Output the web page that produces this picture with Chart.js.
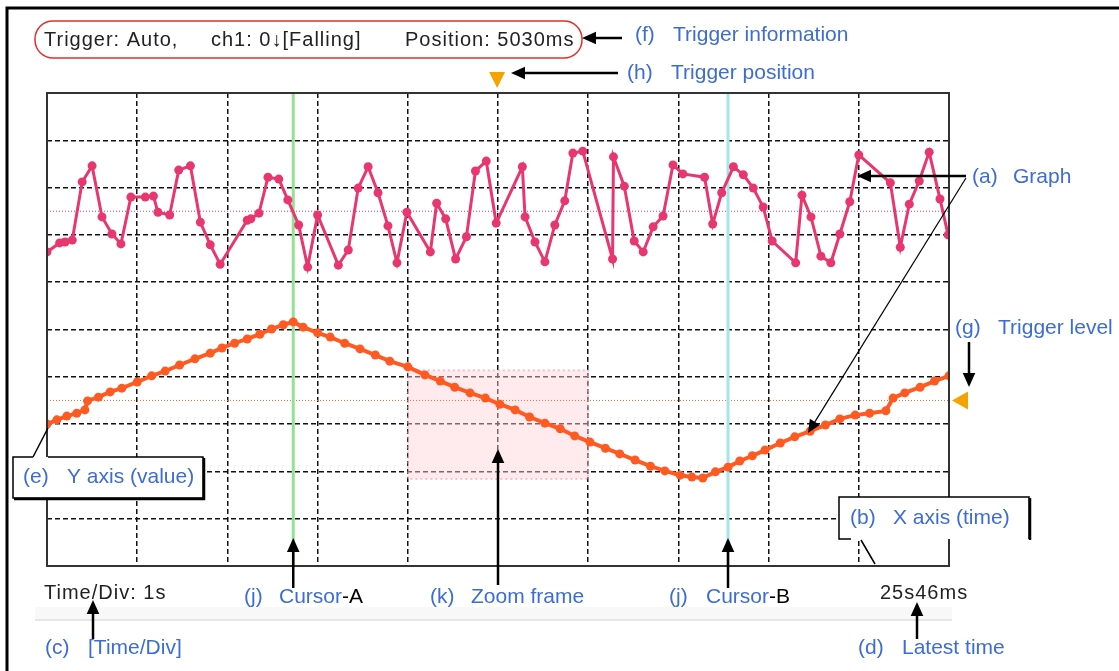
<!DOCTYPE html>
<html>
<head>
<meta charset="utf-8">
<script src="https://cdn.jsdelivr.net/npm/chart.js@4/dist/chart.umd.min.js"></script>
<style>
  html, body { margin:0; padding:0; background:#fff; }
  #wrap { width:1119px; height:671px; }
</style>
</head>
<body>
<div id="wrap"><canvas id="scope_chart" width="1119" height="671"></canvas></div>
<script>
// time in divisions (1 div = 1 s), value in divisions (0..10)
const ch1_time = [0, 0.11, 0.22, 0.33, 0.42, 0.45, 0.57, 0.70, 0.83, 1.00, 1.16, 1.31, 1.47, 1.64, 1.81, 1.94,
  2.08, 2.22, 2.36, 2.49, 2.62, 2.73, 2.84, 3.00, 3.14, 3.30, 3.47, 3.64, 3.80, 4.00, 4.19, 4.36, 4.52, 4.69,
  4.86, 5.02, 5.19, 5.35, 5.52, 5.69, 5.85, 6.02, 6.19, 6.35, 6.52, 6.69, 6.85, 7.02, 7.15, 7.27, 7.41, 7.55,
  7.68, 7.82, 7.96, 8.13, 8.29, 8.46, 8.63, 8.79, 8.96, 9.12, 9.30, 9.38, 9.51, 9.68, 9.84, 10.0];
const ch1_value = [3.00, 3.09, 3.17, 3.23, 3.30, 3.49, 3.57, 3.68, 3.76, 3.89, 4.02, 4.12, 4.25, 4.38, 4.50, 4.61,
  4.71, 4.80, 4.90, 5.01, 5.10, 5.16, 5.05, 4.93, 4.84, 4.71, 4.59, 4.46, 4.33, 4.21, 4.04, 3.91, 3.78, 3.66,
  3.55, 3.42, 3.30, 3.15, 3.02, 2.90, 2.75, 2.62, 2.49, 2.37, 2.24, 2.11, 2.01, 1.92, 1.88, 1.86, 1.99, 2.09,
  2.22, 2.33, 2.45, 2.60, 2.73, 2.85, 2.98, 3.11, 3.19, 3.23, 3.28, 3.55, 3.66, 3.78, 3.91, 4.02];

const ch2_time = [0, 0.14, 0.20, 0.28, 0.39, 0.50, 0.61, 0.72, 0.82, 0.93, 1.09, 1.18, 1.23, 1.36, 1.46, 1.59,
  1.70, 1.81, 1.92, 2.22, 2.26, 2.35, 2.45, 2.57, 2.67, 2.79, 2.89, 3.00, 3.23, 3.34, 3.45, 3.56, 3.67, 3.78,
  3.88, 3.99, 4.25, 4.32, 4.42, 4.53, 4.65, 4.75, 4.87, 4.98, 5.27, 5.30, 5.41, 5.52, 5.63, 5.74, 5.83, 5.94,
  6.27, 6.28, 6.40, 6.51, 6.61, 6.72, 6.83, 6.94, 7.05, 7.29, 7.38, 7.48, 7.61, 7.72, 7.83, 7.94, 8.04, 8.30,
  8.37, 8.47, 8.58, 8.69, 8.79, 8.90, 9.00, 9.35, 9.46, 9.56, 9.67, 9.78, 9.90, 9.99];
const ch2_value = [6.64, 6.83, 6.85, 6.89, 8.12, 8.46, 7.38, 7.02, 6.81, 7.80, 7.80, 7.82, 7.48, 7.42, 8.37, 8.46,
  7.27, 6.79, 6.38, 7.31, 7.34, 7.46, 8.22, 8.18, 7.74, 7.21, 6.32, 7.42, 6.36, 6.68, 7.99, 8.44, 7.89, 7.19,
  6.41, 7.48, 6.64, 7.67, 7.34, 6.49, 6.96, 8.35, 8.56, 7.25, 8.44, 7.38, 6.85, 6.43, 7.21, 7.72, 8.73, 8.77,
  6.49, 8.65, 8.03, 6.87, 6.64, 7.17, 7.40, 8.48, 8.29, 8.22, 7.23, 7.89, 8.44, 8.27, 7.99, 7.59, 6.87, 6.41,
  7.84, 7.38, 6.55, 6.41, 7.02, 7.70, 8.69, 8.10, 6.74, 7.65, 8.14, 8.75, 7.76, 7.00];

const trigger_level = 3.5;   // ch1
const ch2_ref_level = 7.5;
const trigger_pos = 4.99;
const cursor_a = 2.73;
const cursor_b = 7.55;
const zoom_frame = [4.0, 6.0, 1.84, 4.14]; // x0, x1, y0, y1

const BLUE = '#3d6cd4';
const LABEL_FONT = '21px "Liberation Sans", Arial, sans-serif';
const UI_FONT = '20px "Liberation Sans", Arial, sans-serif';

function pairs(xs, ys){
  return xs.map((x, i) => ({x: x, y: ys[i]}));
}

function arrow(ctx, x1, y1, x2, y2, w, head){
  const a = Math.atan2(y2 - y1, x2 - x1);
  const hl = head || 12, hw = hl * 0.45;
  ctx.save();
  ctx.strokeStyle = '#000';
  ctx.fillStyle = '#000';
  ctx.lineWidth = w;
  ctx.beginPath();
  ctx.moveTo(x1, y1);
  ctx.lineTo(x2 - Math.cos(a) * hl * 0.8, y2 - Math.sin(a) * hl * 0.8);
  ctx.stroke();
  ctx.beginPath();
  ctx.moveTo(x2, y2);
  ctx.lineTo(x2 - Math.cos(a) * hl + Math.sin(a) * hw, y2 - Math.sin(a) * hl - Math.cos(a) * hw);
  ctx.lineTo(x2 - Math.cos(a) * hl - Math.sin(a) * hw, y2 - Math.sin(a) * hl + Math.cos(a) * hw);
  ctx.closePath();
  ctx.fill();
  ctx.restore();
}

function label(ctx, tag, text, xTag, xText, y, tail){
  ctx.save();
  ctx.font = LABEL_FONT;
  ctx.textBaseline = 'middle';
  ctx.fillStyle = BLUE;
  ctx.fillText(tag, xTag, y);
  ctx.fillText(text, xText, y);
  if(tail){
    const w = ctx.measureText(text).width;
    ctx.fillStyle = '#000';
    ctx.fillText(tail, xText + w, y);
  }
  ctx.restore();
}

function uiText(ctx, text, x, y){
  ctx.save();
  ctx.font = UI_FONT;
  ctx.letterSpacing = '1px';
  ctx.textBaseline = 'middle';
  ctx.fillStyle = '#222';
  ctx.fillText(text, x, y);
  ctx.restore();
}

const scopeOverlay = {
  id: 'scopeOverlay',
  beforeDatasetsDraw(chart){
    const {ctx, chartArea: ca, scales: {x, y}} = chart;
    ctx.save();
    // zoom frame
    const zx0 = x.getPixelForValue(zoom_frame[0]), zx1 = x.getPixelForValue(zoom_frame[1]);
    const zy0 = y.getPixelForValue(zoom_frame[3]), zy1 = y.getPixelForValue(zoom_frame[2]);
    ctx.fillStyle = 'rgba(255,210,218,0.45)';
    ctx.fillRect(zx0, zy0, zx1 - zx0, zy1 - zy0);
    ctx.strokeStyle = 'rgba(240,150,175,0.55)';
    ctx.lineWidth = 2;
    ctx.setLineDash([2, 3]);
    ctx.strokeRect(zx0, zy0, zx1 - zx0, zy1 - zy0);
    // reference lines
    ctx.lineWidth = 1;
    ctx.setLineDash([1, 2]);
    ctx.strokeStyle = '#d0457a';
    let yy = y.getPixelForValue(ch2_ref_level);
    ctx.beginPath(); ctx.moveTo(ca.left, yy); ctx.lineTo(ca.right, yy); ctx.stroke();
    ctx.strokeStyle = '#f26a3a';
    yy = y.getPixelForValue(trigger_level);
    ctx.beginPath(); ctx.moveTo(ca.left, yy); ctx.lineTo(ca.right, yy); ctx.stroke();
    // cursors
    ctx.setLineDash([]);
    ctx.lineWidth = 3;
    ctx.strokeStyle = '#93e293';
    let cx = x.getPixelForValue(cursor_a);
    ctx.beginPath(); ctx.moveTo(cx, ca.top); ctx.lineTo(cx, ca.bottom); ctx.stroke();
    ctx.strokeStyle = '#a6e4ea';
    cx = x.getPixelForValue(cursor_b);
    ctx.beginPath(); ctx.moveTo(cx, ca.top); ctx.lineTo(cx, ca.bottom); ctx.stroke();
    ctx.restore();
  },
  afterDraw(chart){
    const {ctx, chartArea: ca, scales: {x, y}} = chart;
    ctx.save();
    // plot border
    ctx.strokeStyle = '#333';
    ctx.lineWidth = 2;
    ctx.strokeRect(ca.left, ca.top, ca.right - ca.left, ca.bottom - ca.top);
    // outer frame
    ctx.strokeStyle = '#000';
    ctx.lineWidth = 3;
    ctx.beginPath(); ctx.moveTo(7, 671); ctx.lineTo(7, 8); ctx.lineTo(1119, 8); ctx.stroke();

    // status strip
    ctx.fillStyle = '#f8f8f8';
    ctx.fillRect(35, 607, 917, 12);
    ctx.strokeStyle = '#e6e6e6';
    ctx.lineWidth = 2;
    ctx.beginPath(); ctx.moveTo(35, 620); ctx.lineTo(952, 620); ctx.stroke();

    // trigger info pill
    ctx.strokeStyle = '#e82c2c';
    ctx.lineWidth = 1.5;
    ctx.beginPath();
    ctx.roundRect(35, 21, 547, 37, 18);
    ctx.stroke();
    uiText(ctx, 'Trigger: Auto,', 44, 40);
    uiText(ctx, 'ch1: 0\u2193[Falling]', 211, 40);
    uiText(ctx, 'Position: 5030ms', 405, 40);
    uiText(ctx, 'Time/Div: 1s', 44, 593);
    uiText(ctx, '25s46ms', 880, 593);

    // trigger markers
    ctx.fillStyle = '#f5a300';
    const tp = x.getPixelForValue(trigger_pos);
    ctx.beginPath(); ctx.moveTo(tp - 8, 72); ctx.lineTo(tp + 8, 72); ctx.lineTo(tp, 88); ctx.closePath(); ctx.fill();
    const tl = y.getPixelForValue(trigger_level);
    ctx.beginPath(); ctx.moveTo(952, tl); ctx.lineTo(968, tl - 9); ctx.lineTo(968, tl + 9); ctx.closePath(); ctx.fill();

    // annotations
    arrow(ctx, 622, 38, 582, 38, 2.5, 14);
    label(ctx, '(f)', 'Trigger information', 635, 673, 35);
    arrow(ctx, 618, 73, 511, 73, 2.5, 14);
    label(ctx, '(h)', 'Trigger position', 627, 671, 73);
    arrow(ctx, 966, 176, 857, 176, 2.5, 14);
    arrow(ctx, 966, 178, 808, 433, 1.2, 13);
    label(ctx, '(a)', 'Graph', 972, 1013, 177);
    arrow(ctx, 969, 342, 969, 387, 2.5, 14);
    label(ctx, '(g)', 'Trigger level', 955, 998, 328);

    // (e) callout box
    ctx.fillStyle = '#fff';
    ctx.fillRect(13, 457, 190, 41);
    ctx.strokeStyle = '#000';
    ctx.lineWidth = 1.5;
    ctx.beginPath();
    ctx.moveTo(33, 457); ctx.lineTo(13, 457); ctx.lineTo(13, 498); ctx.lineTo(203, 498);
    ctx.lineTo(203, 457); ctx.lineTo(48, 457);
    ctx.moveTo(33, 457); ctx.lineTo(48, 428);
    ctx.stroke();
    ctx.lineWidth = 2.5;
    ctx.beginPath(); ctx.moveTo(14, 499); ctx.lineTo(204, 499); ctx.lineTo(204, 458); ctx.stroke();
    label(ctx, '(e)', 'Y axis (value)', 23, 67, 477);

    // (b) callout box
    ctx.fillStyle = '#fff';
    ctx.fillRect(839, 497, 190, 42);
    ctx.lineWidth = 1.5;
    ctx.beginPath();
    ctx.moveTo(851, 539); ctx.lineTo(839, 539); ctx.lineTo(839, 497); ctx.lineTo(1029, 497); ctx.lineTo(1029, 539);
    ctx.moveTo(861, 540); ctx.lineTo(875, 564);
    ctx.stroke();
    ctx.lineWidth = 2.5;
    ctx.beginPath(); ctx.moveTo(1030, 498); ctx.lineTo(1030, 540); ctx.stroke();
    label(ctx, '(b)', 'X axis (time)', 850, 893, 518);

    const ax = x.getPixelForValue(cursor_a), bx = x.getPixelForValue(cursor_b);
    arrow(ctx, ax, 588, ax, 538, 2.5, 14);
    label(ctx, '(j)', 'Cursor', 244, 279, 597, '-A');
    const kx = x.getPixelForValue((zoom_frame[0] + zoom_frame[1]) / 2);
    arrow(ctx, kx, 585, kx, 449, 2.5, 14);
    label(ctx, '(k)', 'Zoom frame', 430, 471, 597);
    arrow(ctx, bx, 588, bx, 538, 2.5, 14);
    label(ctx, '(j)', 'Cursor', 669, 706, 597, '-B');
    arrow(ctx, 93, 639, 93, 600, 2.5, 14);
    label(ctx, '(c)', '[Time/Div]', 45, 88, 648);
    arrow(ctx, 917, 639, 917, 602, 2.5, 14);
    label(ctx, '(d)', 'Latest time', 858, 902, 648);
    ctx.restore();
  }
};

function drawScope(el){
  if(!el) return;

  const data = {
    datasets: [
      {
        label: 'ch2',
        data: pairs(ch2_time, ch2_value),
        borderColor: '#e8366e',
        backgroundColor: '#e8366e',
        borderWidth: 3,
        pointRadius: 4.5,
        pointBorderWidth: 0,
        tension: 0,
      },
      {
        label: 'ch1',
        data: pairs(ch1_time, ch1_value),
        borderColor: '#ff5a22',
        backgroundColor: '#ff5a22',
        borderWidth: 4,
        pointRadius: 4.5,
        pointBorderWidth: 0,
        tension: 0,
      },
    ]
  };

  const axis = {
    type: 'linear',
    min: 0,
    max: 10,
    ticks: { display: false, stepSize: 1 },
    grid: { color: '#111', lineWidth: 1.5, drawTicks: false },
    border: { display: false, dash: [5, 3] },
  };

  const config = {
    type: 'line',
    data: data,
    options: {
      responsive: false,
      animation: false,
      devicePixelRatio: 1,
      layout: { padding: { left: 47, top: 93, right: 170, bottom: 105 } },
      scales: { x: axis, y: Object.assign({}, axis) },
      plugins: {
        legend: { display: false },
        tooltip: { enabled: false },
      },
    },
    plugins: [scopeOverlay],
  };

  new Chart(el, config);
}

drawScope(document.getElementById('scope_chart'));
</script>
</body>
</html>
